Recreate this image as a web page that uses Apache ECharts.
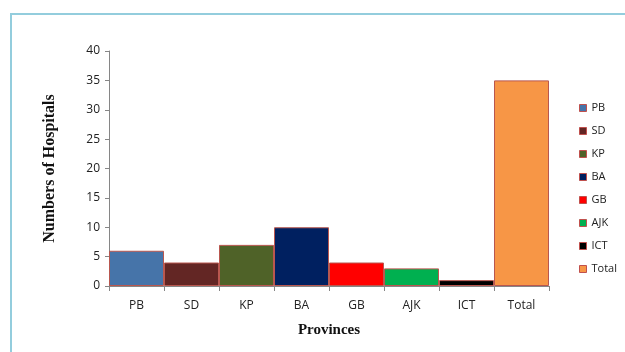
<!DOCTYPE html>
<html>
<head>
<meta charset="utf-8">
<script src="https://cdn.jsdelivr.net/npm/echarts@6/dist/echarts.min.js"></script>
<style>
  body { margin: 0; background: #fff; }
  #chart { width: 625px; height: 352px; }
</style>
</head>
<body>
<div id="chart"></div>
<script>
  // provinces and hospital counts
  var provinces = ['PB', 'SD', 'KP', 'BA', 'GB', 'AJK', 'ICT', 'Total'];
  var hospitals = [6, 4, 7, 10, 4, 3, 1, 35];
  var barColors = ['#4674a9', '#632624', '#4f6228', '#002060', '#ff0000', '#00b050', '#000000', '#f79646'];
  var yTicks = { min: 0, max: 40, step: 5 };

  var chart = echarts.init(document.getElementById('chart'));

  // one series per province so the legend lists each one
  var series = provinces.map(function (name, i) {
    var d = provinces.map(function (p, j) { return j === i ? hospitals[i] : '-'; });
    return {
      name: name,
      type: 'bar',
      stack: 'all',
      data: d,
      barWidth: '100%',
      itemStyle: { color: barColors[i], borderColor: '#b9574f', borderWidth: 1 },
      emphasis: { disabled: true }
    };
  });

  var option = {
    animation: false,
    graphic: [{
      type: 'rect',
      shape: { x: 11, y: 14, width: 700, height: 400 },
      style: { fill: 'none', stroke: '#93cddd', lineWidth: 2 },
      silent: true
    }],
    grid: { left: 109, right: 76, top: 51, bottom: 66 },
    legend: {
      orient: 'vertical',
      left: 574,
      top: 97,
      itemWidth: 7,
      itemHeight: 7,
      itemGap: 11,
      icon: 'rect',
      data: provinces,
      itemStyle: { borderColor: '#c0504d', borderWidth: 1 },
      textStyle: { fontFamily: 'Open Sans', fontSize: 11, color: '#222', lineHeight: 12 }
    },
    xAxis: {
      type: 'category',
      data: provinces,
      name: 'Provinces',
      nameLocation: 'middle',
      nameGap: 37,
      nameTextStyle: { fontFamily: 'Liberation Serif', fontWeight: 'bold', fontSize: 15, color: '#111' },
      axisLine: { lineStyle: { color: '#868686' } },
      axisTick: { show: true, length: 5, lineStyle: { color: '#868686' } },
      axisLabel: { fontFamily: 'Open Sans', fontSize: 12, color: '#222', margin: 14 }
    },
    yAxis: {
      type: 'value',
      min: yTicks.min,
      max: yTicks.max,
      interval: yTicks.step,
      name: 'Numbers of Hospitals',
      nameLocation: 'middle',
      nameGap: 51,
      nameRotate: 90,
      nameTextStyle: { fontFamily: 'Liberation Serif', fontWeight: 'bold', fontSize: 16, color: '#111' },
      axisLine: { show: true, lineStyle: { color: '#868686' } },
      axisTick: { show: true, length: 4, lineStyle: { color: '#868686' } },
      splitLine: { show: false },
      axisLabel: { fontFamily: 'Open Sans', fontSize: 12, color: '#222', margin: 9 }
    },
    series: series
  };

  chart.setOption(option);
</script>
</body>
</html>
